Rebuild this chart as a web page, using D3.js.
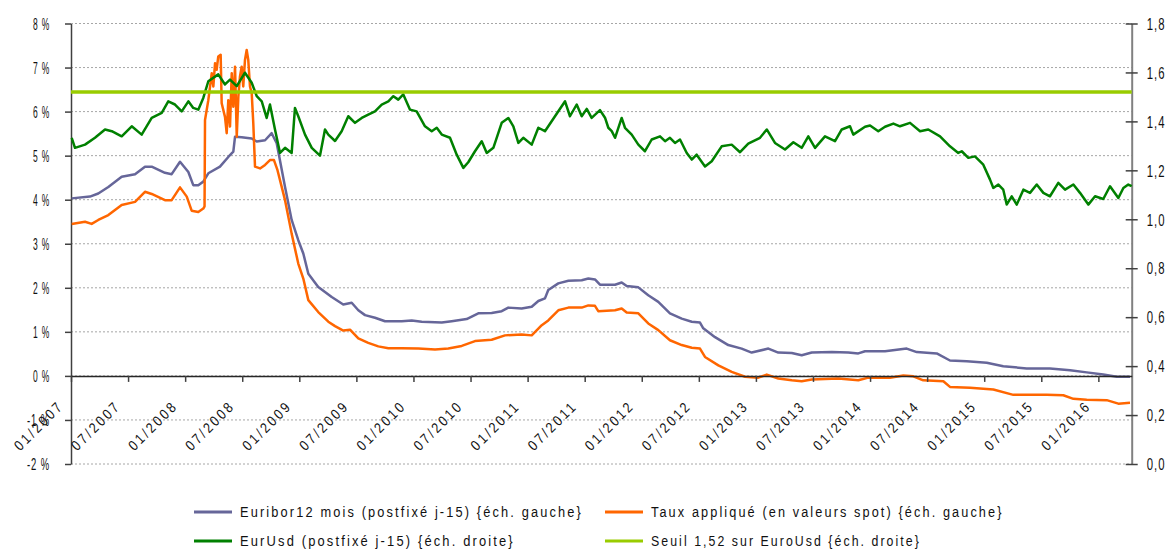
<!DOCTYPE html>
<html lang="fr">
<head>
<meta charset="UTF-8">
<title>Euribor 12 mois, taux appliqué et EurUsd</title>
<script src="https://cdn.jsdelivr.net/npm/d3@7"></script>
<style>
  body { margin: 0; background: #fff; }
  svg text { font-family: "Liberation Sans Narrow", "Arial Narrow", "Liberation Sans", Arial, sans-serif; fill: #111; }
  .grid line { stroke: #a6a6a6; stroke-dasharray: 2,2; }
</style>
</head>
<body>
<div id="chart"></div>
<script>
// dates are decimal years (2008.5 = July 2008)
const euribor = [
  [2007.006, 4.03], [2007.166, 4.07], [2007.239, 4.14], [2007.327, 4.29], [2007.444, 4.52],
  [2007.561, 4.58], [2007.648, 4.75], [2007.707, 4.75], [2007.823, 4.61], [2007.882, 4.58],
  [2007.955, 4.86], [2008.028, 4.63], [2008.071, 4.33], [2008.115, 4.33], [2008.159, 4.41],
  [2008.203, 4.60], [2008.305, 4.75], [2008.378, 4.97], [2008.422, 5.09], [2008.437, 5.43],
  [2008.495, 5.42], [2008.583, 5.39], [2008.627, 5.32], [2008.700, 5.35], [2008.758, 5.51],
  [2008.802, 5.28], [2008.875, 4.29], [2008.933, 3.54], [2008.991, 3.08], [2009.035, 2.78],
  [2009.079, 2.32], [2009.166, 2.02], [2009.284, 1.79], [2009.385, 1.62], [2009.459, 1.66],
  [2009.517, 1.49], [2009.576, 1.38], [2009.663, 1.32], [2009.751, 1.24], [2009.897, 1.24],
  [2009.985, 1.26], [2010.072, 1.23], [2010.248, 1.21], [2010.335, 1.24], [2010.466, 1.29],
  [2010.568, 1.42], [2010.685, 1.43], [2010.773, 1.47], [2010.831, 1.55], [2010.948, 1.53],
  [2011.036, 1.57], [2011.094, 1.70], [2011.152, 1.76], [2011.181, 1.95], [2011.269, 2.10],
  [2011.357, 2.16], [2011.474, 2.17], [2011.532, 2.21], [2011.590, 2.19], [2011.634, 2.07],
  [2011.766, 2.07], [2011.824, 2.12], [2011.868, 2.04], [2011.970, 2.01], [2012.057, 1.83],
  [2012.145, 1.68], [2012.247, 1.42], [2012.350, 1.30], [2012.438, 1.23], [2012.510, 1.21],
  [2012.539, 1.08], [2012.642, 0.88], [2012.758, 0.70], [2012.875, 0.62], [2012.963, 0.53],
  [2013.109, 0.62], [2013.196, 0.53], [2013.314, 0.52], [2013.401, 0.47], [2013.489, 0.53],
  [2013.664, 0.54], [2013.809, 0.53], [2013.897, 0.51], [2013.956, 0.56], [2014.131, 0.56],
  [2014.321, 0.62], [2014.409, 0.54], [2014.584, 0.51], [2014.700, 0.35], [2014.847, 0.33],
  [2015.022, 0.30], [2015.167, 0.22], [2015.372, 0.17], [2015.576, 0.17], [2015.752, 0.13],
  [2015.898, 0.08], [2016.043, 0.03], [2016.161, -0.02], [2016.277, -0.02]
];

const tauxApplique = [
  [2007.006, 3.45], [2007.123, 3.50], [2007.181, 3.45], [2007.239, 3.54], [2007.327, 3.65],
  [2007.444, 3.88], [2007.561, 3.95], [2007.648, 4.18], [2007.707, 4.13], [2007.823, 3.99],
  [2007.882, 3.99], [2007.955, 4.28], [2008.014, 4.07], [2008.057, 3.75], [2008.115, 3.72],
  [2008.159, 3.80], [2008.170, 3.85], [2008.174, 5.81], [2008.203, 6.26], [2008.233, 6.87],
  [2008.247, 6.57], [2008.262, 7.10], [2008.276, 6.95], [2008.290, 7.25], [2008.311, 7.29],
  [2008.320, 6.19], [2008.349, 5.88], [2008.364, 5.51], [2008.378, 6.26], [2008.393, 5.66],
  [2008.408, 6.87], [2008.422, 6.11], [2008.437, 7.02], [2008.452, 5.43], [2008.466, 6.34],
  [2008.480, 6.79], [2008.495, 7.02], [2008.509, 6.57], [2008.524, 7.17], [2008.539, 7.40],
  [2008.553, 7.17], [2008.568, 6.57], [2008.583, 6.42], [2008.597, 5.73], [2008.612, 4.75],
  [2008.656, 4.71], [2008.700, 4.79], [2008.743, 4.90], [2008.778, 4.90], [2008.809, 4.67],
  [2008.875, 3.99], [2008.933, 3.23], [2008.991, 2.55], [2009.035, 2.21], [2009.079, 1.72],
  [2009.166, 1.45], [2009.254, 1.23], [2009.313, 1.13], [2009.385, 1.03], [2009.444, 1.05],
  [2009.517, 0.85], [2009.604, 0.75], [2009.692, 0.67], [2009.780, 0.63], [2009.897, 0.63],
  [2010.043, 0.62], [2010.189, 0.60], [2010.305, 0.62], [2010.423, 0.68], [2010.539, 0.79],
  [2010.685, 0.82], [2010.802, 0.92], [2010.948, 0.94], [2011.036, 0.92], [2011.124, 1.15],
  [2011.181, 1.26], [2011.269, 1.49], [2011.357, 1.55], [2011.474, 1.55], [2011.532, 1.60],
  [2011.590, 1.59], [2011.619, 1.47], [2011.766, 1.49], [2011.824, 1.53], [2011.868, 1.44],
  [2011.970, 1.42], [2012.057, 1.19], [2012.145, 1.04], [2012.247, 0.81], [2012.350, 0.70],
  [2012.438, 0.64], [2012.510, 0.62], [2012.554, 0.43], [2012.671, 0.24], [2012.788, 0.09],
  [2012.905, -0.02], [2013.021, -0.04], [2013.095, 0.03], [2013.196, -0.06], [2013.314, -0.10],
  [2013.401, -0.12], [2013.489, -0.08], [2013.722, -0.06], [2013.897, -0.10], [2013.985, -0.04],
  [2014.175, -0.04], [2014.291, 0.01], [2014.379, -0.01], [2014.466, -0.10], [2014.642, -0.12],
  [2014.700, -0.25], [2014.876, -0.27], [2015.080, -0.31], [2015.255, -0.43], [2015.547, -0.43],
  [2015.693, -0.44], [2015.781, -0.52], [2015.898, -0.54], [2016.073, -0.55], [2016.175, -0.63],
  [2016.277, -0.61]
];

const eurUsd = [
  [2007.006, 1.333], [2007.035, 1.292], [2007.123, 1.305], [2007.210, 1.333], [2007.298, 1.367],
  [2007.357, 1.360], [2007.444, 1.339], [2007.532, 1.380], [2007.619, 1.346], [2007.707, 1.414],
  [2007.795, 1.435], [2007.852, 1.482], [2007.911, 1.469], [2007.970, 1.441], [2008.028, 1.482],
  [2008.071, 1.455], [2008.115, 1.448], [2008.159, 1.496], [2008.203, 1.564], [2008.290, 1.592],
  [2008.349, 1.551], [2008.393, 1.571], [2008.452, 1.544], [2008.524, 1.599], [2008.583, 1.558],
  [2008.627, 1.503], [2008.671, 1.482], [2008.714, 1.414], [2008.743, 1.469], [2008.787, 1.367],
  [2008.831, 1.271], [2008.875, 1.292], [2008.933, 1.271], [2008.962, 1.455], [2008.991, 1.421],
  [2009.050, 1.346], [2009.109, 1.292], [2009.181, 1.260], [2009.225, 1.367], [2009.254, 1.346],
  [2009.313, 1.320], [2009.371, 1.360], [2009.429, 1.421], [2009.488, 1.394], [2009.547, 1.414],
  [2009.604, 1.428], [2009.663, 1.441], [2009.722, 1.469], [2009.780, 1.482], [2009.824, 1.503],
  [2009.867, 1.489], [2009.911, 1.510], [2009.970, 1.448], [2010.028, 1.441], [2010.101, 1.380],
  [2010.160, 1.360], [2010.204, 1.374], [2010.248, 1.346], [2010.320, 1.333], [2010.379, 1.264],
  [2010.437, 1.210], [2010.480, 1.233], [2010.539, 1.278], [2010.598, 1.319], [2010.642, 1.271],
  [2010.700, 1.292], [2010.773, 1.394], [2010.831, 1.414], [2010.875, 1.380], [2010.919, 1.312],
  [2010.962, 1.333], [2011.036, 1.305], [2011.094, 1.374], [2011.152, 1.360], [2011.240, 1.421],
  [2011.328, 1.482], [2011.371, 1.421], [2011.430, 1.469], [2011.474, 1.421], [2011.518, 1.451],
  [2011.561, 1.414], [2011.634, 1.446], [2011.678, 1.415], [2011.707, 1.374], [2011.737, 1.360],
  [2011.766, 1.333], [2011.824, 1.414], [2011.853, 1.374], [2011.912, 1.346], [2011.970, 1.305],
  [2012.028, 1.278], [2012.087, 1.326], [2012.160, 1.339], [2012.204, 1.319], [2012.247, 1.333],
  [2012.291, 1.312], [2012.335, 1.326], [2012.394, 1.271], [2012.438, 1.244], [2012.481, 1.264],
  [2012.554, 1.216], [2012.613, 1.237], [2012.700, 1.298], [2012.788, 1.305], [2012.861, 1.274],
  [2012.933, 1.309], [2013.036, 1.333], [2013.095, 1.367], [2013.167, 1.312], [2013.255, 1.285],
  [2013.328, 1.315], [2013.401, 1.292], [2013.459, 1.339], [2013.518, 1.292], [2013.605, 1.339],
  [2013.693, 1.319], [2013.752, 1.367], [2013.824, 1.380], [2013.853, 1.346], [2013.956, 1.378],
  [2014.000, 1.383], [2014.072, 1.360], [2014.131, 1.378], [2014.204, 1.391], [2014.262, 1.380],
  [2014.350, 1.394], [2014.438, 1.360], [2014.510, 1.367], [2014.613, 1.339], [2014.700, 1.298],
  [2014.773, 1.271], [2014.803, 1.278], [2014.861, 1.251], [2014.919, 1.257], [2014.992, 1.223],
  [2015.051, 1.162], [2015.080, 1.128], [2015.124, 1.142], [2015.167, 1.121], [2015.197, 1.060],
  [2015.241, 1.094], [2015.285, 1.060], [2015.343, 1.121], [2015.401, 1.108], [2015.460, 1.142],
  [2015.518, 1.108], [2015.576, 1.094], [2015.649, 1.149], [2015.708, 1.121], [2015.781, 1.142],
  [2015.839, 1.108], [2015.912, 1.060], [2015.971, 1.094], [2016.043, 1.083], [2016.102, 1.135],
  [2016.175, 1.087], [2016.219, 1.128], [2016.262, 1.142], [2016.292, 1.135]
];

const seuilEurUsd = [[2007.0, 1.52], [2016.292, 1.52]];

const leftTicks = [-2, -1, 0, 1, 2, 3, 4, 5, 6, 7, 8];
const rightTicks = [0, 0.2, 0.4, 0.6, 0.8, 1.0, 1.2, 1.4, 1.6, 1.8];
const xTickLabels = [
  "01/2007", "07/2007", "01/2008", "07/2008", "01/2009", "07/2009", "01/2010",
  "07/2010", "01/2011", "07/2011", "01/2012", "07/2012", "01/2013", "07/2013",
  "01/2014", "07/2014", "01/2015", "07/2015", "01/2016"
];
const legendLabels = [
  "Euribor12 mois (postfixé j-15) {éch. gauche}",
  "Taux appliqué (en valeurs spot) {éch. gauche}",
  "EurUsd (postfixé j-15) {éch. droite}",
  "Seuil 1,52 sur EuroUsd {éch. droite}"
];

const colors = ["#666699", "#ff6600", "#008000", "#99cc00"];

const width = 1171, height = 552;
const plot = {left: 71, right: 1131.7, top: 23.5, bottom: 464};

const svg = d3.select("#chart").append("svg")
  .attr("width", width)
  .attr("height", height);

const x = d3.scaleLinear().domain([2007, 2016.292]).range([plot.left, plot.right]);
const yLeft = d3.scaleLinear().domain([-2, 8]).range([plot.bottom, plot.top]);
const yRight = d3.scaleLinear().domain([0, 1.8]).range([plot.bottom, plot.top]);

// squeeze a text horizontally to a given width, keeping its height (narrow spaced look)
function squeeze(sel, widthFn, pre, post) {
  sel.each(function (d, i) {
    const t = d3.select(this).attr("x", 0).attr("y", 0);
    const w = this.getComputedTextLength();
    const s = widthFn(d, i) / w;
    t.attr("transform", `${pre(d, i)} ${post || ""} scale(${s},1)`);
  });
}

// dotted gridlines
svg.append("g")
  .attr("class", "grid")
  .selectAll("line")
  .data(leftTicks)
  .enter()
  .append("line")
  .attr("x1", plot.left)
  .attr("x2", plot.right)
  .attr("y1", d => yLeft(d))
  .attr("y2", d => yLeft(d));

// left axis
const leftAxis = svg.append("g")
  .attr("transform", `translate(${plot.left},0)`)
  .call(d3.axisLeft(yLeft).tickValues(leftTicks).tickSize(6).tickSizeOuter(0)
    .tickFormat(d => d + " %"));
leftAxis.select(".domain").attr("stroke", "#404040").attr("stroke-width", 1.5);
leftAxis.selectAll(".tick line").attr("stroke", "#404040").attr("stroke-width", 1.5);
leftAxis.selectAll(".tick text")
  .attr("font-size", 16)
  .attr("letter-spacing", 1.5)
  .attr("dy", "0.36em")
  .call(squeeze, d => (d < 0 ? 23 : 17), () => "translate(-21,0)");

// right axis
const rightAxis = svg.append("g")
  .attr("transform", `translate(${plot.right},0)`)
  .call(d3.axisRight(yRight).tickValues(rightTicks).tickSize(6).tickSizeOuter(0)
    .tickFormat(d => d3.format(".1f")(d).replace(".", ",")));
rightAxis.select(".domain").attr("stroke", "#808080").attr("stroke-width", 2);
rightAxis.selectAll(".tick line").attr("x1", -6).attr("stroke", "#404040").attr("stroke-width", 1.5);
rightAxis.selectAll(".tick text")
  .attr("font-size", 16)
  .attr("letter-spacing", 1.5)
  .attr("dy", "0.36em")
  .call(squeeze, () => 19, () => "translate(15,0)");

// series
const lineLeft = d3.line().x(d => x(d[0])).y(d => yLeft(d[1]));
const lineRight = d3.line().x(d => x(d[0])).y(d => yRight(d[1]));

svg.append("path").datum(euribor)
  .attr("fill", "none").attr("stroke", colors[0]).attr("stroke-width", 2.5)
  .attr("stroke-linejoin", "round").attr("d", lineLeft);
svg.append("path").datum(tauxApplique)
  .attr("fill", "none").attr("stroke", colors[1]).attr("stroke-width", 2.5)
  .attr("stroke-linejoin", "round").attr("d", lineLeft);
svg.append("path").datum(eurUsd)
  .attr("fill", "none").attr("stroke", colors[2]).attr("stroke-width", 2.5)
  .attr("stroke-linejoin", "round").attr("d", lineRight);
svg.append("path").datum(seuilEurUsd)
  .attr("fill", "none").attr("stroke", colors[3]).attr("stroke-width", 3.5)
  .attr("d", lineRight);

// x axis on the 0 % line
const xAxis = svg.append("g")
  .attr("transform", `translate(0,${yLeft(0)})`)
  .call(d3.axisBottom(x)
    .tickValues(xTickLabels.map((d, i) => 2007 + i * 0.5))
    .tickSize(6).tickSizeOuter(0)
    .tickFormat((d, i) => xTickLabels[i]));
xAxis.select(".domain").attr("stroke", "#262626").attr("stroke-width", 1.5);
xAxis.selectAll(".tick line").attr("stroke", "#404040").attr("stroke-width", 1.5);
xAxis.selectAll(".tick text")
  .attr("dy", 0)
  .attr("text-anchor", "end")
  .attr("font-size", 14.5)
  .attr("letter-spacing", 3)
  .call(squeeze, () => 63, () => "translate(-7,31)", "rotate(-45)");

// legend
const legendPos = [[194, 512], [605, 512], [194, 541], [605, 541]];
const legendWidths = [343, 353, 275, 270];

const legend = svg.append("g")
  .selectAll("g")
  .data(legendLabels)
  .enter()
  .append("g")
  .attr("transform", (d, i) => `translate(${legendPos[i][0]},${legendPos[i][1]})`);

legend.append("line")
  .attr("x1", 0).attr("x2", 38)
  .attr("stroke", (d, i) => colors[i])
  .attr("stroke-width", 3);

legend.append("text")
  .attr("dy", "0.36em")
  .attr("font-size", 15)
  .attr("letter-spacing", 2.5)
  .text(d => d)
  .call(squeeze, (d, i) => legendWidths[i], () => "translate(46,0)");
</script>
</body>
</html>
